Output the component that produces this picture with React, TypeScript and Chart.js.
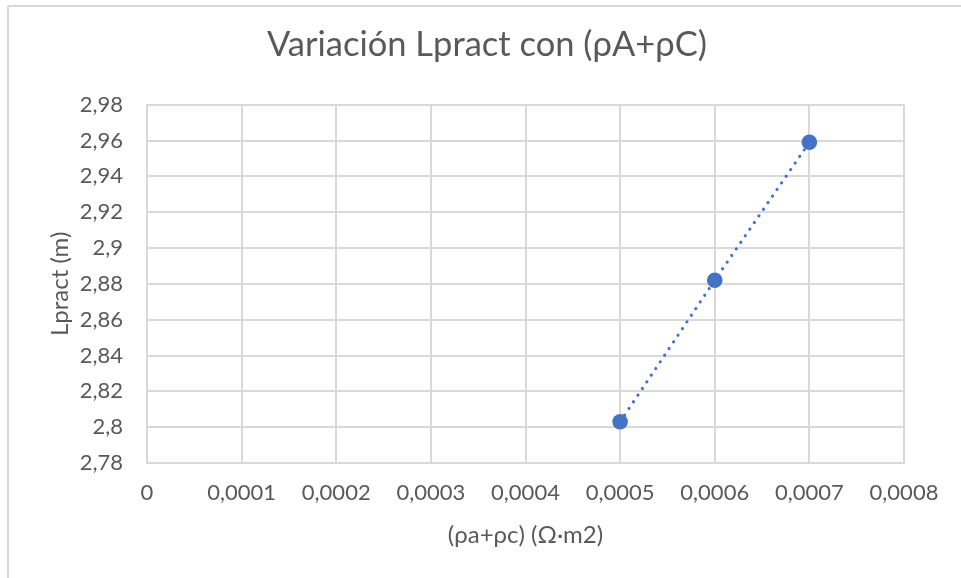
import React, { useEffect, useRef } from "react";
import { Chart, registerables } from "chart.js";

Chart.register(...registerables);

const titleText = "Variación Lpract con (ρA+ρC)";
const xAxisTitle = "(ρa+ρc) (Ω·m2)";
const yAxisTitle = "Lpract (m)";

const xValues = [0.0005, 0.0006, 0.0007];
const yValues = [2.803, 2.882, 2.959];

const xMin = 0;
const xMax = 0.0008;
const xStep = 0.0001;
const yMin = 2.78;
const yMax = 2.98;
const yStep = 0.02;

const textColor = "#595959";
const gridColor = "#d9d9d9";
const seriesColor = "#4472c4";
const fontFamily = "Lato, 'Open Sans', 'Noto Sans', sans-serif";

function fmt(v: number, digits: number): string {
  return Number(v.toFixed(digits)).toString().replace(".", ",");
}

export default function App() {
  const ref = useRef<HTMLCanvasElement | null>(null);

  useEffect(() => {
    if (!ref.current) return;
    const points = xValues.map((x, i) => ({ x, y: yValues[i] }));
    const chart = new Chart(ref.current, {
      type: "scatter",
      data: {
        datasets: [
          {
            data: points,
            showLine: true,
            borderColor: seriesColor,
            borderWidth: 3.2,
            borderDash: [0.01, 8],
            borderCapStyle: "round",
            pointRadius: 7.8,
            pointHoverRadius: 7.8,
            pointBackgroundColor: seriesColor,
            pointBorderColor: seriesColor,
            pointBorderWidth: 0,
            xAxisID: "x",
            yAxisID: "y",
          },
        ],
      },
      options: {
        responsive: true,
        maintainAspectRatio: false,
        animation: false,
        layout: { padding: 0 },
        plugins: {
          legend: { display: false },
          tooltip: { enabled: false },
          title: {
            display: true,
            text: titleText,
            color: textColor,
            font: { family: fontFamily, size: 34.5, weight: "400", lineHeight: 1.2 },
            padding: { top: 17, bottom: 39.3 },
          },
        },
        scales: {
          x: {
            type: "linear",
            min: xMin,
            max: xMax,
            afterFit: (s: any) => {
              s.height = 120;
            },
            ticks: {
              stepSize: xStep,
              color: textColor,
              padding: 17,
              maxRotation: 0,
              autoSkip: false,
              font: { family: fontFamily, size: 22, lineHeight: 1.2 },
              callback: (v: any) => fmt(Number(v), 4),
            },
            grid: { color: gridColor, lineWidth: 2, drawTicks: false },
            border: { color: gridColor, width: 2 },
            title: {
              display: true,
              text: xAxisTitle,
              color: textColor,
              font: { family: fontFamily, size: 24, lineHeight: 1.2 },
              padding: { top: 0, bottom: 33.6 },
            },
          },
          y: {
            type: "linear",
            position: "left",
            min: yMin,
            max: yMax,
            afterFit: (s: any) => {
              s.width = 138;
            },
            ticks: {
              stepSize: yStep,
              color: textColor,
              padding: 24,
              autoSkip: false,
              font: { family: fontFamily, size: 22, lineHeight: 1.2 },
              callback: (v: any) => fmt(Number(v), 2),
            },
            grid: { color: gridColor, lineWidth: 2, drawTicks: false },
            border: { color: gridColor, width: 2 },
            title: {
              display: true,
              text: yAxisTitle,
              color: textColor,
              font: { family: fontFamily, size: 24, lineHeight: 1.2 },
              padding: { top: 36.6, bottom: 0 },
            },
          },
          rightSpace: {
            type: "linear",
            position: "right",
            min: yMin,
            max: yMax,
            afterFit: (s: any) => {
              s.width = 61;
            },
            ticks: { display: false },
            grid: { display: false, drawOnChartArea: false, drawTicks: false },
            border: { display: false },
          },
        },
      },
    });
    return () => chart.destroy();
  }, []);

  return (
    <div
      style={{
        position: "fixed",
        left: 7,
        top: 5,
        width: 960,
        height: 580,
        border: "2px solid #d9d9d9",
        boxSizing: "border-box",
        background: "#ffffff",
      }}
    >
      <div style={{ position: "relative", width: "100%", height: "100%" }}>
        <canvas ref={ref} />
      </div>
    </div>
  );
}
